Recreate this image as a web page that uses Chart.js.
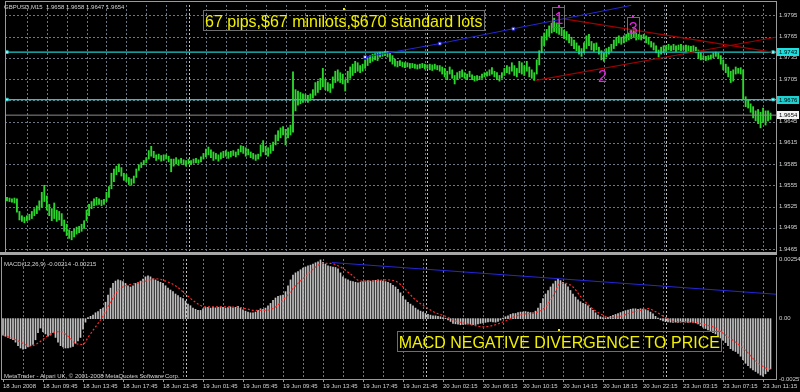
<!DOCTYPE html>
<html lang="en">
<head>
  <meta charset="UTF-8">
  <title>GBPUSD M15 - MACD divergence</title>
  <!-- Chart.js v4 -->
  <script src="https://cdn.jsdelivr.net/npm/chart.js"></script>
  <style>
    html, body { margin: 0; padding: 0; background: #000; }
    #wrap { position: relative; width: 800px; height: 392px; overflow: hidden; background: #000; }
    #priceBox { position: absolute; left: 0; top: 0; width: 800px; height: 257px; }
    #macdBox { position: absolute; left: 0; top: 257px; width: 800px; height: 135px; }
  </style>
</head>
<body>
<div id="wrap">
  <div id="priceBox"><canvas id="priceChart" width="800" height="257"></canvas></div>
  <div id="macdBox"><canvas id="macdChart" width="800" height="135"></canvas></div>
</div>

<script>
// ---- data (one entry per M15 bar) ----
const barLow = [
  1.9533,1.9532,1.9531,1.9530,1.9517,1.9506,1.9504,1.9502,1.9505,1.9506,
  1.9508,1.9512,1.9515,1.9520,1.9524,1.9532,1.9520,1.9512,1.9505,1.9508,
  1.9504,1.9506,1.9498,1.9490,1.9484,1.9480,1.9478,1.9482,1.9486,1.9488,
  1.9490,1.9494,1.9505,1.9512,1.9522,1.9526,1.9527,1.9528,1.9526,1.9528,
  1.9532,1.9538,1.9550,1.9560,1.9570,1.9574,1.9568,1.9562,1.9560,1.9556,
  1.9555,1.9558,1.9566,1.9576,1.9580,1.9584,1.9587,1.9592,1.9596,1.9594,
  1.9590,1.9592,1.9589,1.9590,1.9592,1.9588,1.9574,1.9582,1.9585,1.9583,
  1.9586,1.9584,1.9582,1.9585,1.9584,1.9586,1.9587,1.9586,1.9588,1.9592,
  1.9595,1.9598,1.9594,1.9590,1.9592,1.9589,1.9592,1.9594,1.9596,1.9593,
  1.9595,1.9597,1.9595,1.9598,1.9602,1.9600,1.9596,1.9598,1.9594,1.9592,
  1.9590,1.9592,1.9596,1.9602,1.9598,1.9596,1.9600,1.9604,1.9612,1.9618,
  1.9622,1.9626,1.9612,1.9622,1.9626,1.9630,1.9660,1.9668,1.9670,1.9672,
  1.9674,1.9672,1.9675,1.9678,1.9682,1.9686,1.9690,1.9694,1.9690,1.9688,
  1.9686,1.9692,1.9700,1.9702,1.9700,1.9698,1.9688,1.9700,1.9706,1.9710,
  1.9714,1.9716,1.9714,1.9716,1.9720,1.9724,1.9728,1.9730,1.9732,1.9731,
  1.9736,1.9737,1.9738,1.9736,1.9730,1.9726,1.9723,1.9722,1.9724,1.9722,
  1.9721,1.9722,1.9720,1.9721,1.9720,1.9719,1.9720,1.9721,1.9719,1.9720,
  1.9718,1.9717,1.9719,1.9718,1.9716,1.9712,1.9708,1.9704,1.9712,1.9706,
  1.9698,1.9704,1.9706,1.9708,1.9706,1.9704,1.9708,1.9704,1.9702,1.9703,
  1.9704,1.9706,1.9708,1.9709,1.9710,1.9712,1.9708,1.9704,1.9702,1.9706,
  1.9710,1.9714,1.9712,1.9716,1.9710,1.9708,1.9714,1.9712,1.9710,1.9716,
  1.9708,1.9706,1.9703,1.9712,1.9725,1.9742,1.9752,1.9760,1.9765,1.9770,
  1.9772,1.9770,1.9768,1.9766,1.9762,1.9760,1.9756,1.9752,1.9748,1.9745,
  1.9740,1.9737,1.9742,1.9748,1.9752,1.9746,1.9744,1.9746,1.9740,1.9732,
  1.9730,1.9736,1.9740,1.9744,1.9748,1.9752,1.9756,1.9754,1.9756,1.9758,
  1.9760,1.9762,1.9764,1.9760,1.9761,1.9760,1.9762,1.9756,1.9754,1.9750,
  1.9746,1.9742,1.9736,1.9740,1.9742,1.9744,1.9746,1.9745,1.9746,1.9744,
  1.9746,1.9745,1.9746,1.9744,1.9745,1.9743,1.9744,1.9742,1.9734,1.9732,
  1.9732,1.9731,1.9732,1.9733,1.9735,1.9737,1.9734,1.9726,1.9718,1.9714,
  1.9708,1.9700,1.9702,1.9712,1.9713,1.9712,1.9676,1.9666,1.9664,1.9658,
  1.9650,1.9646,1.9642,1.9636,1.9644,1.9640,1.9646,1.9648
];
const barHigh = [
  1.9538,1.9537,1.9536,1.9537,1.9536,1.9518,1.9512,1.9510,1.9512,1.9514,
  1.9518,1.9522,1.9526,1.9533,1.9545,1.9555,1.9540,1.9528,1.9522,1.9530,
  1.9520,1.9518,1.9515,1.9506,1.9500,1.9492,1.9490,1.9493,1.9496,1.9497,
  1.9500,1.9505,1.9520,1.9528,1.9532,1.9536,1.9538,1.9536,1.9534,1.9535,
  1.9545,1.9553,1.9572,1.9578,1.9582,1.9585,1.9580,1.9572,1.9570,1.9566,
  1.9564,1.9568,1.9578,1.9584,1.9587,1.9590,1.9594,1.9604,1.9610,1.9603,
  1.9598,1.9599,1.9597,1.9598,1.9598,1.9596,1.9592,1.9592,1.9594,1.9591,
  1.9593,1.9591,1.9590,1.9592,1.9590,1.9592,1.9593,1.9591,1.9595,1.9600,
  1.9606,1.9609,1.9605,1.9602,1.9600,1.9598,1.9601,1.9603,1.9604,1.9602,
  1.9603,1.9604,1.9602,1.9606,1.9611,1.9610,1.9608,1.9606,1.9602,1.9600,
  1.9598,1.9599,1.9612,1.9618,1.9610,1.9608,1.9612,1.9616,1.9626,1.9632,
  1.9636,1.9638,1.9634,1.9636,1.9640,1.9715,1.9690,1.9688,1.9686,1.9684,
  1.9683,1.9682,1.9684,1.9690,1.9700,1.9702,1.9706,1.9720,1.9705,1.9700,
  1.9698,1.9708,1.9716,1.9718,1.9714,1.9712,1.9704,1.9716,1.9722,1.9726,
  1.9730,1.9728,1.9724,1.9726,1.9732,1.9735,1.9738,1.9740,1.9741,1.9742,
  1.9743,1.9743,1.9744,1.9744,1.9742,1.9738,1.9733,1.9730,1.9731,1.9729,
  1.9728,1.9728,1.9727,1.9727,1.9726,1.9725,1.9726,1.9727,1.9726,1.9725,
  1.9726,1.9725,1.9726,1.9724,1.9724,1.9722,1.9720,1.9716,1.9722,1.9718,
  1.9710,1.9714,1.9716,1.9718,1.9714,1.9712,1.9716,1.9711,1.9709,1.9710,
  1.9709,1.9712,1.9714,1.9715,1.9718,1.9721,1.9716,1.9714,1.9710,1.9714,
  1.9720,1.9724,1.9722,1.9728,1.9724,1.9720,1.9730,1.9728,1.9724,1.9730,
  1.9722,1.9718,1.9714,1.9732,1.9745,1.9765,1.9770,1.9775,1.9780,1.9784,
  1.9791,1.9784,1.9782,1.9778,1.9774,1.9772,1.9768,1.9764,1.9760,1.9756,
  1.9752,1.9748,1.9756,1.9766,1.9768,1.9758,1.9755,1.9756,1.9750,1.9745,
  1.9742,1.9748,1.9750,1.9754,1.9760,1.9764,1.9766,1.9764,1.9766,1.9768,
  1.9770,1.9774,1.9776,1.9770,1.9768,1.9767,1.9768,1.9766,1.9764,1.9758,
  1.9756,1.9752,1.9746,1.9750,1.9752,1.9752,1.9754,1.9752,1.9754,1.9752,
  1.9753,1.9754,1.9752,1.9753,1.9752,1.9751,1.9752,1.9750,1.9746,1.9742,
  1.9738,1.9737,1.9738,1.9739,1.9742,1.9743,1.9742,1.9738,1.9732,1.9726,
  1.9722,1.9716,1.9718,1.9722,1.9720,1.9721,1.9718,1.9680,1.9676,1.9670,
  1.9666,1.9660,1.9662,1.9658,1.9664,1.9660,1.9660,1.9657
];
const macdHist = [
  -0.0007,-0.00075,-0.0008,-0.00085,-0.0009,-0.001,-0.00115,-0.00125,-0.0013,-0.00128,
  -0.0012,-0.00115,-0.0011,-0.0009,-0.0006,-0.0004,-0.00055,-0.00065,-0.00075,-0.0007,
  -0.0006,-0.0008,-0.001,-0.00115,-0.0012,-0.00125,-0.00125,-0.00122,-0.00118,-0.00105,
  -0.00095,-0.0008,-0.00045,-0.00015,0.00005,0.0001,0.00015,0.00025,0.0003,0.0004,
  0.00045,0.0007,0.001,0.0013,0.0015,0.0016,0.00165,0.00162,0.00158,0.0015,
  0.0014,0.00135,0.0014,0.0015,0.00155,0.0016,0.00168,0.00178,0.00182,0.00178,
  0.0017,0.00165,0.0016,0.00155,0.0015,0.0014,0.0013,0.00122,0.00115,0.00105,
  0.00098,0.0009,0.00085,0.00075,0.00062,0.00055,0.00045,0.0004,0.00035,0.00035,
  0.00042,0.00048,0.00048,0.00045,0.00048,0.00046,0.00048,0.0005,0.00048,0.00045,
  0.00047,0.0005,0.00046,0.00048,0.00052,0.00045,0.00038,0.00032,0.00028,0.00025,
  0.00025,0.00028,0.00035,0.00042,0.0004,0.00045,0.00055,0.00065,0.00078,0.00088,
  0.00095,0.00098,0.001,0.00115,0.0014,0.00165,0.00185,0.00195,0.002,0.00208,
  0.00215,0.0022,0.00225,0.00228,0.00232,0.00238,0.00242,0.0025,0.0024,0.00232,
  0.00225,0.00222,0.0022,0.00218,0.00212,0.00195,0.00178,0.0017,0.00165,0.0016,
  0.00158,0.00155,0.00152,0.00155,0.00158,0.0016,0.00162,0.0016,0.00162,0.00163,
  0.00165,0.00162,0.0016,0.00158,0.00155,0.0015,0.00142,0.00135,0.00125,0.0011,
  0.00095,0.0008,0.0007,0.00062,0.00055,0.00045,0.00038,0.00032,0.00028,0.00022,
  0.00018,0.00015,0.00012,0.00012,0.0001,0.00008,0.00005,0.00002,-0.00005,-0.00012,
  -0.0002,-0.00022,-0.00024,-0.00026,-0.00025,-0.00024,-0.00022,-0.00024,-0.00026,-0.00025,
  -0.00022,-0.0002,-0.00018,-0.00016,-0.00014,-0.00012,-0.00014,-0.00015,-0.00012,-0.00006,
  0.00002,0.00008,0.00012,0.00018,0.00022,0.00022,0.00026,0.00028,0.00028,0.0003,
  0.00028,0.00026,0.00025,0.00032,0.00045,0.00065,0.00085,0.00105,0.0012,0.00135,
  0.00148,0.0016,0.00168,0.00162,0.00155,0.00148,0.00135,0.0012,0.00105,0.00092,
  0.0008,0.00072,0.00065,0.00062,0.00055,0.00045,0.00035,0.00025,0.00015,0.00008,
  0.00005,0.00004,0.00006,0.0001,0.00014,0.00018,0.00022,0.00026,0.0003,0.00034,
  0.00037,0.0004,0.00042,0.00042,0.0004,0.00042,0.00041,0.00038,0.00034,0.00028,
  0.0002,0.0001,0.00002,-0.00005,-0.0001,-0.00013,-0.00014,-0.00015,-0.00016,-0.00015,
  -0.00016,-0.00015,-0.00014,-0.00015,-0.00016,-0.00015,-0.00017,-0.00018,-0.00022,-0.0003,
  -0.00036,-0.00042,-0.00048,-0.00055,-0.0006,-0.00065,-0.00072,-0.00082,-0.00092,-0.00102,
  -0.00115,-0.00128,-0.00135,-0.0014,-0.00148,-0.0016,-0.00175,-0.0019,-0.002,-0.0021,
  -0.00218,-0.00225,-0.00232,-0.0024,-0.00245,-0.00235,-0.00225,-0.00214
];
// signal line, read at these bars
const signalBar = [0,3,7,11,14,17,20,23,26,29,32,34,37,40,43,46,49,53,57,61,65,69,73,77,81,85,89,95,
  101,105,109,113,117,121,125,128,131,135,139,143,147,153,157,160,165,169,173,177,181,185,189,192,197,
  201,205,209,213,217,220,223,225,228,231,235,239,243,247,251,255,258,261,265,269,273,277,281,285,289,
  293,297,301,305,307];
const signalVal = [-0.0007,-0.0008,-0.001,-0.00117,-0.00104,-0.0008,-0.0006,-0.00055,-0.00075,-0.00105,
  -0.0011,-0.0008,-0.00035,0.0001,0.0007,0.0012,0.0014,0.0015,0.0016,0.0017,0.0016,0.0014,0.00105,0.0007,
  0.0005,0.0005,0.0005,0.00047,0.00035,0.00035,0.0005,0.0009,0.0014,0.0018,0.0022,0.00235,0.00235,0.0022,
  0.0019,0.0016,0.0016,0.00165,0.0016,0.00135,0.0008,0.0005,0.00025,0.0001,-0.0001,-0.0002,-0.0003,
  -0.00035,-0.00026,-0.0001,0.0001,0.0002,0.00025,0.0005,0.00095,0.0015,0.0015,0.00135,0.00095,0.0005,
  0.0002,0.00005,0.0001,0.00025,0.00035,0.00043,0.0003,0.00005,-0.00013,-0.00013,-0.00017,-0.00026,
  -0.0004,-0.0007,-0.001,-0.00135,-0.0018,-0.0021,-0.00215];

const priceTicks = [1.9465,1.9495,1.9525,1.9555,1.9585,1.9615,1.9645,1.9675,1.9705,1.9735,1.9765,1.9795];
const macdTicks = [-0.00257, 0, 0.00254];
// one time label every 16 bars
const timeLabels = ['18 Jun 2008','18 Jun 09:45','18 Jun 13:45','18 Jun 17:45','18 Jun 21:45',
  '19 Jun 01:45','19 Jun 05:45','19 Jun 09:45','19 Jun 13:45','19 Jun 17:45','19 Jun 21:45',
  '20 Jun 02:15','20 Jun 06:15','20 Jun 10:15','20 Jun 14:15','20 Jun 18:15','20 Jun 22:15',
  '23 Jun 03:15','23 Jun 07:15','23 Jun 11:15'];
const daySeparators = [73, 169, 265];

// horizontal levels and trend lines (bar index, value)
const levels = [1.9743, 1.9676];
const bidPrice = 1.9654;
const blueTrend = [{x:144,y:1.9736},{x:174,y:1.9755},{x:203.6,y:1.9776},{x:251,y:1.9809}];
const redTrendA = [{x:224,y:1.9790},{x:307.6,y:1.9743}];
const redTrendB = [{x:212.8,y:1.9703},{x:309.2,y:1.9764}];
const macdTrend = [{x:131.5,y:0.00239},{x:309.2,y:0.00104}];

const headerText = 'GBPUSD,M15  1.9658 1.9658 1.9647 1.9654';
const macdText = 'MACD(12,26,9) -0.00214 -0.00215';
const footerText = 'MetaTrader - Alpari UK, \u00a9 2001-2008 MetaQuotes Software Corp.';
const priceNotes = [
  { text: '67 pips,$67 minilots,$670 standard lots', x: 135.4, y: 1.9788, style: 'big' },
  { text: '1', x: 221.9, y: 1.9792, style: 'wave' },
  { text: '2', x: 239.4, y: 1.9711, style: 'plain' },
  { text: '3', x: 251.8, y: 1.9779, style: 'wave' }
];
const macdNotes = [
  { text: 'MACD NEGATIVE DIVERGENCE TO PRICE', x: 222.5, y: -0.00093, style: 'big' }
];

// ---- styles ----
const fontFamily = '"Liberation Sans", Arial, sans-serif';
const noteStyle = {
  big:   { size: 16, color: '#f0f000', box: true },
  wave:  { size: 16, color: '#e026e0', box: true },
  plain: { size: 16, color: '#e026e0', box: false }
};
const gridColor = '#6c7682';
const sepColor = '#c0c0c0';
const textColor = '#d4d4d4';
const frameColor = '#9a9a9a';

Chart.defaults.font.family = fontFamily;
Chart.defaults.font.size = 6;
Chart.defaults.color = textColor;

const xMin = -0.8, xMax = 309.2;

function timeAxis(showLabels) {
  return {
    type: 'linear', min: xMin, max: xMax, offset: false,
    afterBuildTicks: s => { s.ticks = timeLabels.map((_, k) => ({ value: k * 16 })); },
    grid: { display: false, drawTicks: false, offset: false },
    border: { display: false },
    ticks: {
      display: showLabels, autoSkip: false, maxRotation: 0, align: 'start', padding: 4,
      color: textColor, font: { size: 6 },
      callback: v => timeLabels[v / 16]
    },
    afterFit: s => { s.height = showLabels ? 13 : 0; s.paddingLeft = 0; s.paddingRight = 0; }
  };
}

function valueAxis(min, max, tickValues, fmt) {
  return {
    position: 'right', min, max,
    afterBuildTicks: s => { s.ticks = tickValues.map(v => ({ value: v })); },
    ticks: { autoSkip: false, color: textColor, font: { size: 6 }, padding: 3, callback: fmt },
    grid: { display: false, drawTicks: false },
    border: { display: false },
    afterFit: s => { s.width = 24; s.paddingTop = 0; s.paddingBottom = 0; }
  };
}

// dotted MetaTrader grid: every 8 bars, day separators, and price levels
function drawDottedGrid(chart, hValues) {
  const { ctx, chartArea: a, scales: { x, y } } = chart;
  ctx.save();
  ctx.lineWidth = 1;
  ctx.setLineDash([2, 2]);
  const vline = (v, c) => {
    const px = Math.round(x.getPixelForValue(v)) + 0.5;
    ctx.strokeStyle = c;
    ctx.beginPath(); ctx.moveTo(px, a.top); ctx.lineTo(px, a.bottom); ctx.stroke();
  };
  for (let i = 8; i <= 304; i += 8) vline(i, gridColor);
  daySeparators.forEach(v => vline(v, sepColor));
  hValues.forEach(v => {
    const py = Math.round(y.getPixelForValue(v)) + 0.5;
    ctx.strokeStyle = gridColor;
    ctx.beginPath(); ctx.moveTo(a.left, py); ctx.lineTo(a.right, py); ctx.stroke();
  });
  ctx.restore();
}

function drawNotes(chart, notes) {
  const { ctx, scales } = chart;
  notes.forEach(n => {
    const st = noteStyle[n.style];
    const cx = scales.x.getPixelForValue(n.x);
    const cy = scales.y.getPixelForValue(n.y);
    ctx.font = st.size + 'px ' + fontFamily;
    const w = ctx.measureText(n.text).width;
    ctx.fillStyle = st.color;
    ctx.textAlign = 'center';
    ctx.textBaseline = 'alphabetic';
    ctx.fillText(n.text, cx, cy + st.size * 0.44);
    if (st.box) {
      const left = Math.round(cx - w / 2 - 2) + 0.5;
      const top = Math.round(cy - st.size * 0.62) + 0.5;
      ctx.strokeStyle = '#6e6e6e';
      ctx.lineWidth = 1;
      ctx.strokeRect(left, top, Math.round(w + 3), Math.round(st.size * 1.22));
      ctx.fillRect(Math.round(cx) - 1, top - 2.5, 2, 2);
    }
  });
}

function drawTag(chart, value, bg) {
  const { ctx, chartArea: a, scales: { y } } = chart;
  const py = Math.round(y.getPixelForValue(value));
  ctx.fillStyle = bg;
  ctx.fillRect(a.right + 1, py - 4, 22, 8);
  ctx.fillStyle = '#000';
  ctx.font = '6px ' + fontFamily;
  ctx.textAlign = 'left';
  ctx.textBaseline = 'middle';
  ctx.fillText(value.toFixed(4), a.right + 3, py + 0.5);
}

// frame, labels and text objects of the price window
const priceOverlay = {
  id: 'priceOverlay',
  beforeDatasetsDraw(chart) { drawDottedGrid(chart, priceTicks); },
  afterDraw(chart) {
    const { ctx, chartArea: a } = chart;
    ctx.save();
    ctx.strokeStyle = frameColor;
    ctx.lineWidth = 1;
    ctx.strokeRect(a.left + 0.5, 1.5, a.right - a.left, a.bottom - 1);
    ctx.fillStyle = '#a6a6a6';
    ctx.fillRect(0, a.bottom, a.right + 1, 3);
    drawTag(chart, levels[0], '#1ee0e0');
    drawTag(chart, levels[1], '#1ed0d0');
    drawTag(chart, bidPrice, '#f4f4f4');
    ctx.fillStyle = textColor;
    ctx.font = '6px ' + fontFamily;
    ctx.textAlign = 'left';
    ctx.textBaseline = 'middle';
    ctx.fillText(headerText, 4, 7);
    drawNotes(chart, priceNotes);
    ctx.restore();
  }
};

const macdOverlay = {
  id: 'macdOverlay',
  beforeDatasetsDraw(chart) { drawDottedGrid(chart, []); },
  afterDraw(chart) {
    const { ctx, chartArea: a, scales: { x } } = chart;
    ctx.save();
    ctx.strokeStyle = frameColor;
    ctx.lineWidth = 1;
    ctx.strokeRect(a.left + 0.5, -1, a.right - a.left, a.bottom + 1.5);
    // small tick marks under the time labels
    timeLabels.forEach((_, k) => {
      const px = Math.round(x.getPixelForValue(k * 16)) + 0.5;
      ctx.beginPath(); ctx.moveTo(px, a.bottom); ctx.lineTo(px, a.bottom + 3); ctx.stroke();
    });
    ctx.fillStyle = textColor;
    ctx.font = '6px ' + fontFamily;
    ctx.textAlign = 'left';
    ctx.textBaseline = 'middle';
    ctx.fillText(macdText, 4, 7);
    ctx.fillText(footerText, 4, 119);
    drawNotes(chart, macdNotes);
    ctx.restore();
  }
};

const levelLine = (v, color) => ({
  type: 'line',
  data: [{ x: xMin, y: v }, { x: 0, y: v }, { x: 308, y: v }, { x: xMax, y: v }],
  borderColor: color, borderWidth: 1.3,
  pointRadius: [0, 1.8, 1.8, 0], pointStyle: 'rect',
  pointBackgroundColor: '#e8ffff', pointBorderColor: color, pointBorderWidth: 1,
  order: 1
});

// ---- price window ----
new Chart(document.getElementById('priceChart'), {
  type: 'bar',
  data: {
    labels: barLow.map((_, i) => i),
    datasets: [
      {
        label: 'GBPUSD', data: barLow.map((lo, i) => [lo, barHigh[i]]),
        backgroundColor: '#2cd62c', barThickness: 1.2, order: 10
      },
      levelLine(levels[0], '#20cccc'),
      levelLine(levels[1], '#22c4c4'),
      { type: 'line', data: [{ x: xMin, y: bidPrice }, { x: xMax, y: bidPrice }],
        borderColor: '#8c8c8c', borderWidth: 1, pointRadius: 0, order: 1 },
      { type: 'line', data: blueTrend, borderColor: '#2626d6', borderWidth: 1,
        pointRadius: [2, 2, 2, 0], pointStyle: 'rect', pointBackgroundColor: '#ffffff',
        pointBorderColor: '#2626d6', pointBorderWidth: 1, order: 0 },
      { type: 'line', data: redTrendA, borderColor: '#a00000', borderWidth: 1.2, pointRadius: 0, order: 0 },
      { type: 'line', data: redTrendB, borderColor: '#a00000', borderWidth: 1.2, pointRadius: 0, order: 0 }
    ]
  },
  options: {
    responsive: false, animation: false, devicePixelRatio: 1, events: [],
    layout: { padding: { left: 1, top: 2, right: 0, bottom: 3 } },
    plugins: { legend: { display: false }, tooltip: { enabled: false } },
    scales: {
      x: timeAxis(false),
      y: valueAxis(1.94608, 1.98095, priceTicks, v => v.toFixed(4))
    }
  },
  plugins: [priceOverlay]
});

// ---- MACD window ----
new Chart(document.getElementById('macdChart'), {
  type: 'bar',
  data: {
    labels: macdHist.map((_, i) => i),
    datasets: [
      { label: 'MACD', data: macdHist, backgroundColor: '#c4c4c4', barThickness: 1, order: 10 },
      { type: 'line', label: 'Signal', data: signalBar.map((b, i) => ({ x: b, y: signalVal[i] })),
        borderColor: '#ff2a2a', borderWidth: 1.2, borderDash: [2, 2], pointRadius: 0,
        cubicInterpolationMode: 'monotone', order: 1 },
      { type: 'line', data: macdTrend, borderColor: '#2626d6', borderWidth: 1, pointRadius: 0, order: 0 }
    ]
  },
  options: {
    responsive: false, animation: false, devicePixelRatio: 1, events: [],
    layout: { padding: { left: 1, top: 2, right: 0, bottom: 0 } },
    plugins: { legend: { display: false }, tooltip: { enabled: false } },
    scales: {
      x: timeAxis(true),
      y: valueAxis(-0.00257, 0.00254, macdTicks, v => (v === 0 ? '0.00' : v.toFixed(5)))
    }
  },
  plugins: [macdOverlay]
});
</script>
</body>
</html>
